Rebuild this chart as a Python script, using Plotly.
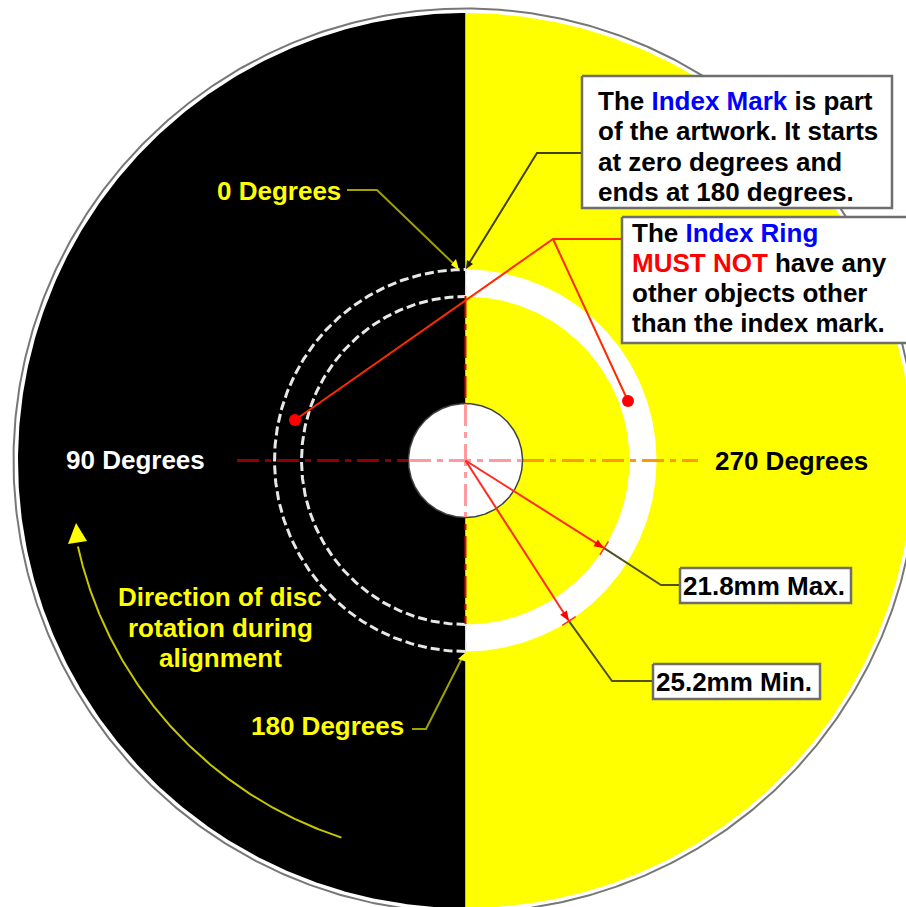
import numpy as np
import plotly.graph_objects as go

CENTER = [465.5, 460.5]
DISC_OUTLINE_R = 452
DISC_R = 447.5
RING_OUT_R = 191
RING_IN_R = 164
HOLE_R = 57
ARC_R = 397
ARC_ANGLES = [108.2, 167.5]

BOX_X = [[582, 892], [622, 912], [680, 851], [653, 820]]
BOX_Y = [[76, 208], [217, 343], [568, 603], [664, 699]]

MEASURE_ANGLES = [32.3, 57.2]
MEASURE_RADII = [RING_IN_R, RING_OUT_R]
LEADER_X = [[661, 680], [612, 653]]
LEADER_Y = [[585, 585], [681, 681]]

LABELS = ["90 Degrees", "270 Degrees", "0 Degrees", "180 Degrees"]
LABEL_X = [64, 713, 215, 249]
LABEL_Y = [460, 461, 191, 726]
LABEL_COL = ["white", "black", "#ffff00", "#ffff00"]

BOX1_LINES = ['The <span style="color:#0000ff">Index Mark</span> is part', "of the artwork. It starts",
              "at zero degrees and", "ends at 180 degrees."]
BOX1_Y = [101, 131, 162, 192]
BOX2_LINES = ['The <span style="color:#0000ff">Index Ring</span>',
              '<span style="color:#ff0000">MUST NOT</span> have any',
              "other objects other", "than the index mark."]
BOX2_Y = [233, 263, 293, 323]
ROT_LINES = ["Direction of disc", "rotation during", "alignment"]
ROT_Y = [597, 628, 658]
MEASURE_TEXT = ["21.8mm Max.", "25.2mm Min."]

DOT_X = [295, 628]
DOT_Y = [420, 401]

FONT = "Liberation Sans, Arial, sans-serif"
FS = 26

fig = go.Figure()


def arc(r, a0, a1, n=240):
    t = np.radians(np.linspace(a0, a1, n))
    return CENTER[0] + r * np.cos(t), CENTER[1] + r * np.sin(t)


def poly(x, y, color, line=None, width=0):
    fig.add_trace(go.Scatter(x=list(x), y=list(y), mode="lines", fill="toself", fillcolor=color,
                             line=dict(color=line or color, width=width)))


def line(x, y, color, width=2, dash=None):
    fig.add_trace(go.Scatter(x=list(x), y=list(y), mode="lines",
                             line=dict(color=color, width=width, dash=dash)))


# disc
x, y = arc(DISC_OUTLINE_R, 0, 360, 720)
line(x, y, "#777777", 2)
x, y = arc(DISC_R, 90, 270, 360)
poly(x, y, "#000000")
x, y = arc(DISC_R, -90, 90, 360)
poly(x, y, "#ffff00")

# index ring on the yellow half
xo, yo = arc(RING_OUT_R, -90, 90)
xi, yi = arc(RING_IN_R, 90, -90)
poly(np.r_[xo, xi], np.r_[yo, yi], "#ffffff")

# dashed ring on the black half
for r in (RING_OUT_R, RING_IN_R):
    x, y = arc(r, 90, 270, 360)
    line(x, y, "#e8e8e8", 3, "9px,4px")

# vertical centre line on the edge
line([CENTER[0], CENTER[0]], [296, 624], "#d01010", 2, "22px,6px,6px,6px")
line([CENTER[0] + 0.5] * 2, [268, 296], "#e8e8e8", 1.5, "6px,12px")
line([CENTER[0] + 0.5] * 2, [624, 652], "#e8e8e8", 1.5, "6px,12px")

# horizontal centre line
line([237, 409], [CENTER[1]] * 2, "#900000", 3, "22px,6px,6px,6px")
line([522, 698], [CENTER[1]] * 2, "#ff9a00", 3, "22px,6px,6px,6px")

# hole
x, y = arc(HOLE_R, 0, 360, 360)
poly(x, y, "#ffffff", "#404040", 1.5)
line([409, 522], [CENTER[1]] * 2, "#ff9aa0", 3, "22px,6px,6px,6px")
line([CENTER[0]] * 2, [404, 517], "#ff9aa0", 3, "22px,6px,6px,6px")

# rotation arrow
x, y = arc(ARC_R, ARC_ANGLES[0], ARC_ANGLES[1])
line(x, y, "#c8c800", 2)
poly([76, 68, 87], [523, 544, 541], "#ffff00")

# leaders for degrees
line([347, 377, 457], [190, 190, 267], "#a0a000", 2)
poly([459, 451, 456], [270, 265, 259], "#ffff00")
line([412, 426, 463], [729, 729, 656], "#a0a000", 2)
poly([466, 458, 467], [652, 659, 662], "#ffff00")

# index mark leader
line([582, 537, 468], [153, 153, 265], "#404000", 2)
poly([466, 467, 473], [269, 260, 264], "#202000")

# measurement lines
for ang, rad, lx, ly in zip(MEASURE_ANGLES, MEASURE_RADII, LEADER_X, LEADER_Y):
    t = np.radians(ang)
    ex, ey = CENTER[0] + rad * np.cos(t), CENTER[1] + rad * np.sin(t)
    line([ex, *lx], [ey, *ly], "#505020", 2)
    line([CENTER[0], ex], [CENTER[1], ey], "#ff2a20", 2)
    ux, uy = np.cos(t), np.sin(t)
    line([ex - 8 * uy, ex + 8 * uy], [ey + 8 * ux, ey - 8 * ux], "#ff2a20", 1.5)
    poly([ex, ex - 10 * ux - 4 * uy, ex - 10 * ux + 4 * uy],
         [ey, ey - 10 * uy + 4 * ux, ey - 10 * uy - 4 * ux], "#ff0000")

# index ring leaders
line([622, 553, DOT_X[0]], [239, 239, DOT_Y[0]], "#ff2a00", 2)
line([553, DOT_X[1]], [239, DOT_Y[1]], "#ff2a00", 2)
fig.add_trace(go.Scatter(x=DOT_X, y=DOT_Y, mode="markers", marker=dict(color="#ff0000", size=12)))

# boxes
for bx, by in zip(BOX_X, BOX_Y):
    poly([bx[0], bx[1], bx[1], bx[0], bx[0]], [by[0], by[0], by[1], by[1], by[0]], "#ffffff", "#6e6e6e", 2.5)


def text(t, x, y, color="black", anchor="left"):
    fig.add_annotation(x=x, y=y, text=t, showarrow=False, xanchor=anchor, yanchor="middle",
                       font=dict(family=FONT, size=FS, color=color, weight="bold"))


for t, x, y, c in zip(LABELS, LABEL_X, LABEL_Y, LABEL_COL):
    text(t, x, y, c)
for t, y in zip(BOX1_LINES, BOX1_Y):
    text(t, 596, y)
for t, y in zip(BOX2_LINES, BOX2_Y):
    text(t, 630, y)
for t, y in zip(ROT_LINES, ROT_Y):
    text(t, 220, y, "#ffff00", "center")
text(MEASURE_TEXT[0], 681, 586)
text(MEASURE_TEXT[1], 654, 682)

fig.update_traces(showlegend=False, hoverinfo="skip")
fig.update_xaxes(range=[0, 906], visible=False, fixedrange=True)
fig.update_yaxes(range=[907, 0], visible=False, fixedrange=True)
fig.update_layout(width=906, height=907, margin=dict(l=0, r=0, t=0, b=0),
                  paper_bgcolor="white", plot_bgcolor="white", showlegend=False)
fig.write_html("out.html", config=dict(displayModeBar=False),
               post_script="document.body.style.margin='0';document.documentElement.style.overflow='hidden';")
